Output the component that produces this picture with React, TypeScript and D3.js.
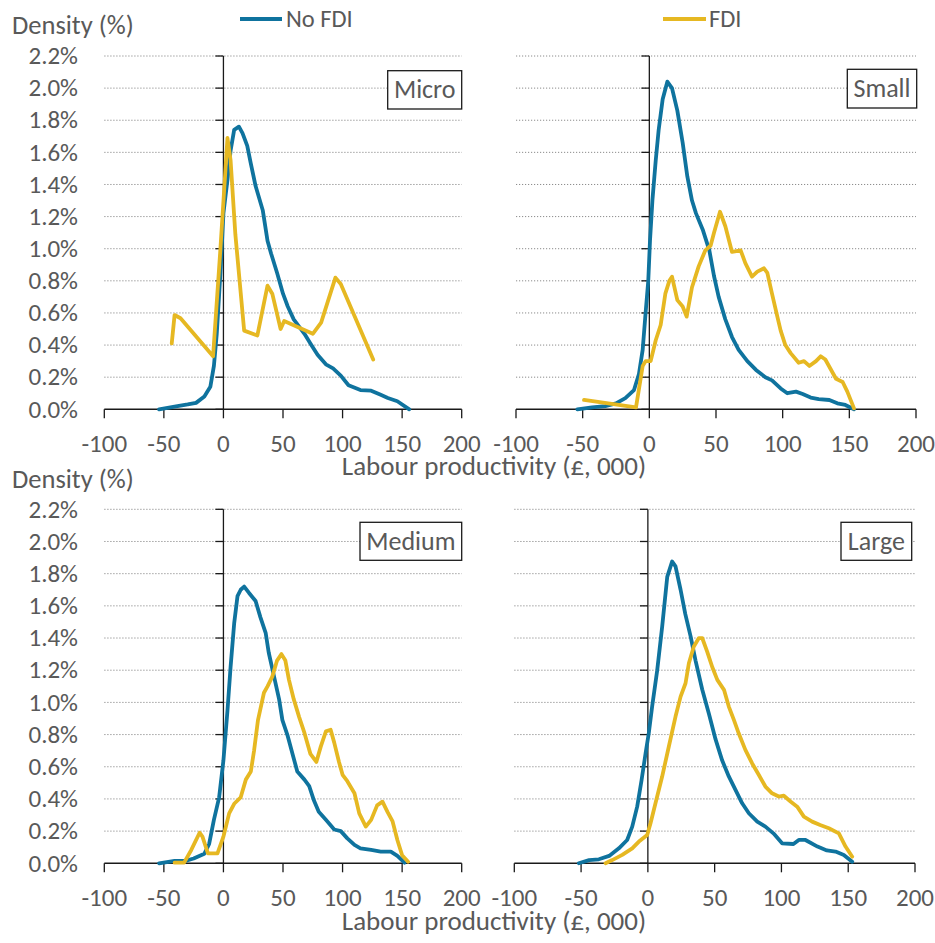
import React from "react";
import * as d3 from "d3";

// ---------- DATA ----------
const xTicks = [-100, -50, 0, 50, 100, 150, 200];
const yTicks = [0, 0.2, 0.4, 0.6, 0.8, 1.0, 1.2, 1.4, 1.6, 1.8, 2.0, 2.2];
const seriesNames = ["No FDI", "FDI"];
const panelNames = ["Micro", "Small", "Medium", "Large"];

// [x (£000), density (%)]
const microNoFDI: [number, number][] = [
  [-54, 0], [-41, 0.017], [-30, 0.03], [-23, 0.04], [-16, 0.08], [-11, 0.14], [-8, 0.27],
  [-5.6, 0.47], [-2.2, 0.89], [0, 1.22], [3.4, 1.43], [6, 1.61], [9, 1.74], [13, 1.76],
  [16, 1.72], [20, 1.64], [23, 1.53], [27, 1.39], [33, 1.24], [37, 1.05], [40, 0.97],
  [45, 0.85], [50, 0.72], [54, 0.64], [59, 0.56], [68, 0.47], [73, 0.41], [79, 0.34],
  [86, 0.28], [92, 0.255], [98.5, 0.21], [105, 0.15], [115, 0.12], [124, 0.116],
  [132, 0.09], [138, 0.07], [146, 0.05], [156, 0],
];
const microFDI: [number, number][] = [
  [-43.4, 0.41], [-41, 0.587], [-36, 0.567], [-8.7, 0.33], [-2.8, 0.97], [3.4, 1.69],
  [6, 1.55], [10, 1.09], [17.4, 0.49], [28.5, 0.46], [37, 0.77], [41, 0.72], [48, 0.5],
  [51, 0.55], [75, 0.47], [82, 0.54], [94, 0.82], [98.5, 0.78], [125.7, 0.31],
];
const smallNoFDI: [number, number][] = [
  [-54, 0], [-43, 0.012], [-33, 0.02], [-25, 0.037], [-18, 0.07], [-11.5, 0.12], [-7.8, 0.22],
  [-5, 0.37], [-2.8, 0.6], [-0.8, 0.8], [0.5, 1.05], [2.3, 1.3], [4.8, 1.55], [7, 1.74],
  [10, 1.93], [13.5, 2.04], [17, 2.0], [21, 1.86], [25, 1.66], [28.5, 1.45], [32, 1.3],
  [35, 1.22], [40, 1.12], [45, 0.99], [48.5, 0.83], [52, 0.7], [57, 0.56], [62, 0.45],
  [67, 0.37], [73.5, 0.3], [80, 0.245], [87, 0.2], [92, 0.18], [98.5, 0.13], [103.5, 0.1],
  [110, 0.11], [115, 0.095], [121, 0.073], [127, 0.064], [135, 0.058], [141, 0.037],
  [147, 0.027], [153.5, 0],
];
const smallFDI: [number, number][] = [
  [-49, 0.058], [-10, 0.012], [-5, 0.27], [-2.8, 0.3], [1, 0.3], [4.8, 0.43], [8.5, 0.525],
  [12, 0.72], [15, 0.8], [17, 0.826], [21, 0.68], [25, 0.64], [28, 0.577], [32, 0.76],
  [37, 0.89], [42, 0.99], [46, 1.02], [48.5, 1.1], [53, 1.23], [57, 1.14], [62, 0.98],
  [68.5, 0.99], [72, 0.91], [77, 0.826], [81, 0.857], [86, 0.878], [88.5, 0.85], [92, 0.72],
  [96, 0.577], [98.5, 0.49], [102, 0.4], [106, 0.35], [112, 0.29], [116, 0.3], [120, 0.27],
  [125, 0.3], [128.5, 0.33], [132, 0.31], [140, 0.19], [145, 0.17], [148.5, 0.11],
  [153.5, 0.006],
];
const mediumNoFDI: [number, number][] = [
  [-54, 0], [-41, 0.015], [-32, 0.015], [-25, 0.03], [-16, 0.06], [-12, 0.12], [-8, 0.27],
  [-3.6, 0.41], [0, 0.64], [3.4, 0.95], [6, 1.22], [9, 1.49], [11.8, 1.66], [14.5, 1.7],
  [17.4, 1.72], [21.5, 1.68], [27, 1.63], [31, 1.53], [35.5, 1.43], [38, 1.31], [42.5, 1.16],
  [46.7, 1.02], [49.5, 0.89], [54, 0.79], [58, 0.68], [62, 0.57], [68, 0.52], [72, 0.48],
  [76, 0.39], [80, 0.32], [86, 0.27], [93, 0.21], [98.5, 0.2], [104, 0.155], [110, 0.114],
  [115, 0.093], [124, 0.083], [132, 0.073], [140.5, 0.073], [146, 0.046], [152, 0.004],
];
const mediumFDI: [number, number][] = [
  [-41, 0.004], [-33, 0.004], [-27, 0.083], [-20, 0.19], [-17.6, 0.166], [-13, 0.062],
  [-5, 0.062], [0, 0.166], [4.8, 0.31], [9, 0.37], [14.5, 0.41], [18.8, 0.52], [23, 0.57],
  [25.7, 0.7], [29, 0.89], [34, 1.06], [37, 1.1], [41, 1.16], [45, 1.26], [48.7, 1.3],
  [52, 1.26], [55, 1.14], [59, 1.02], [63.5, 0.91], [68, 0.81], [73, 0.68], [78, 0.63],
  [81.7, 0.725], [86, 0.82], [90, 0.83], [93, 0.75], [97, 0.63], [100, 0.55], [104, 0.51],
  [110, 0.435], [114, 0.31], [119.5, 0.228], [124, 0.27], [129, 0.36], [133.5, 0.383],
  [137.7, 0.32], [142, 0.26], [146, 0.145], [150, 0.05], [155, 0.01],
];
const largeNoFDI: [number, number][] = [
  [-51.7, 0], [-44, 0.02], [-36.7, 0.025], [-29, 0.046], [-21.7, 0.093], [-15.5, 0.145],
  [-11.7, 0.228], [-8, 0.352], [-4.7, 0.518], [-1.7, 0.684], [0.7, 0.81], [3.2, 0.974],
  [7, 1.2], [10.7, 1.47], [14.5, 1.78], [18.2, 1.876], [20.7, 1.845], [24.5, 1.7], [28, 1.55],
  [32, 1.41], [35.7, 1.26], [40.7, 1.08], [45.7, 0.93], [50.7, 0.77], [55.6, 0.64],
  [60.6, 0.54], [65.6, 0.456], [70.6, 0.373], [75.6, 0.311], [81.9, 0.259], [88, 0.228],
  [94, 0.186], [100.5, 0.124], [109, 0.12], [113, 0.145], [118, 0.145], [127, 0.104],
  [134, 0.08], [140.5, 0.073], [146.7, 0.052], [153, 0.01],
];
const largeFDI: [number, number][] = [
  [-31.7, 0], [-26.7, 0.02], [-19.2, 0.052], [-11.7, 0.093], [-6.7, 0.135], [-0.5, 0.176],
  [2, 0.249], [5.7, 0.373], [10.7, 0.539], [15.7, 0.726], [20.7, 0.912], [24.5, 1.036],
  [28.2, 1.119], [30.7, 1.243], [34.4, 1.347], [38.2, 1.4], [40.7, 1.4], [44.4, 1.316],
  [48.2, 1.22], [52, 1.14], [57, 1.078], [60.6, 0.974], [64.4, 0.891], [68, 0.808],
  [73, 0.705], [78, 0.622], [83, 0.55], [88, 0.477], [93, 0.435], [98, 0.415], [101.8, 0.42],
  [106.8, 0.384], [111.8, 0.352], [116.8, 0.29], [123, 0.259], [129, 0.238], [135.5, 0.218],
  [143, 0.186], [148, 0.104], [153, 0.041],
];

const panelSeries = [
  [microNoFDI, microFDI],
  [smallNoFDI, smallFDI],
  [mediumNoFDI, mediumFDI],
  [largeNoFDI, largeFDI],
];

// ---------- STYLE / LAYOUT ----------
const COLORS = ["#0f739e", "#e6b822"];
const TEXT = "#595959";
const FONT = "Carlito, Calibri, Lato, sans-serif";
const FS_TICK = 25;
const FS_TITLE = 27;
const FS_DENS = 26.5;
const FS_LEG = 24.5;
const FS_BOX = 26;

const layout = [
  { x0: 104.3, x1: 461.7, y0: 409.3, y1: 56, yLabels: true, box: { x: 387.7, y: 70.7, w: 74, h: 38.3 } },
  { x0: 516, x1: 916, y0: 409.3, y1: 56, yLabels: false, box: { x: 847.3, y: 69.3, w: 69.4, h: 38.7 } },
  { x0: 104.3, x1: 461.7, y0: 863.3, y1: 509.3, yLabels: true, box: { x: 360, y: 522.3, w: 101.7, h: 38 } },
  { x0: 514.3, x1: 915, y0: 863.3, y1: 509.3, yLabels: false, box: { x: 841, y: 522.3, w: 70.7, h: 38 } },
];

function Panel({ i }: { i: number }) {
  const L = layout[i];
  const x = d3.scaleLinear().domain([-100, 200]).range([L.x0, L.x1]);
  const y = d3.scaleLinear().domain([0, 2.2]).range([L.y0, L.y1]);
  const line = d3
    .line<[number, number]>()
    .x((d) => x(d[0]))
    .y((d) => y(d[1]))
    .curve(d3.curveLinear);
  return (
    <g>
      {yTicks.slice(1).map((t) => (
        <line
          key={"g" + t}
          x1={x(-100)}
          x2={x(200)}
          y1={y(t)}
          y2={y(t)}
          stroke="#8c8c8c"
          strokeWidth={1}
          strokeDasharray="1.2,1.8"
        />
      ))}
      {/* y axis */}
      <line x1={x(0)} x2={x(0)} y1={y(0)} y2={y(2.2)} stroke="#1a1a1a" strokeWidth={1.3} />
      {yTicks.map((t) => (
        <line key={"yt" + t} x1={x(0) - 8} x2={x(0)} y1={y(t)} y2={y(t)} stroke="#1a1a1a" strokeWidth={1.3} />
      ))}
      {/* x axis */}
      <line x1={x(-100)} x2={x(200)} y1={y(0)} y2={y(0)} stroke="#1a1a1a" strokeWidth={1.5} />
      {xTicks.map((t) => (
        <line key={"xt" + t} x1={x(t)} x2={x(t)} y1={y(0)} y2={y(0) + 9} stroke="#1a1a1a" strokeWidth={1.3} />
      ))}
      {xTicks.map((t) => (
        <text
          key={"xl" + t}
          x={x(t)}
          y={y(0) + 42.5}
          textAnchor="middle"
          fill={TEXT}
          fontSize={FS_TICK}
          fontFamily={FONT}
        >
          {t}
        </text>
      ))}
      {L.yLabels &&
        yTicks.map((t) => (
          <text
            key={"yl" + t}
            x={78}
            y={y(t)}
            dy="0.33em"
            textAnchor="end"
            fill={TEXT}
            fontSize={FS_TICK}
            fontFamily={FONT}
          >
            {t.toFixed(1) + "%"}
          </text>
        ))}
      {panelSeries[i].map((s, k) => (
        <path
          key={"s" + k}
          d={line(s) || ""}
          fill="none"
          stroke={COLORS[k]}
          strokeWidth={3.8}
          strokeLinejoin="round"
          strokeLinecap="round"
        />
      ))}
      <rect x={L.box.x} y={L.box.y} width={L.box.w} height={L.box.h} fill="#fff" stroke="#1a1a1a" strokeWidth={1.3} />
      <text
        x={L.box.x + L.box.w / 2}
        y={L.box.y + L.box.h / 2}
        dy="0.32em"
        textAnchor="middle"
        fill={TEXT}
        fontSize={FS_BOX}
        fontFamily={FONT}
      >
        {panelNames[i]}
      </text>
    </g>
  );
}

export default function App() {
  return (
    <svg
      width={935}
      height={943}
      style={{ position: "absolute", left: 0, top: 0, background: "#fff" }}
      fontFamily={FONT}
    >
      <rect x={0} y={0} width={935} height={943} fill="#fff" />
      {[0, 1, 2, 3].map((i) => (
        <Panel key={i} i={i} />
      ))}
      <text x={12} y={34} fill={TEXT} fontSize={FS_DENS} fontFamily={FONT}>
        Density (%)
      </text>
      <text x={12} y={488} fill={TEXT} fontSize={FS_DENS} fontFamily={FONT}>
        Density (%)
      </text>
      <text x={494} y={475} textAnchor="middle" fill={TEXT} fontSize={FS_TITLE} fontFamily={FONT}>
        Labour productivity (£, 000)
      </text>
      <text x={494} y={930} textAnchor="middle" fill={TEXT} fontSize={FS_TITLE} fontFamily={FONT}>
        Labour productivity (£, 000)
      </text>
      {/* legend */}
      <line x1={240} x2={282} y1={19} y2={19} stroke={COLORS[0]} strokeWidth={3.8} />
      <text x={286} y={27} fill={TEXT} fontSize={FS_LEG} fontFamily={FONT}>
        {seriesNames[0]}
      </text>
      <line x1={663} x2={706} y1={19} y2={19} stroke={COLORS[1]} strokeWidth={3.8} />
      <text x={709} y={27} fill={TEXT} fontSize={FS_LEG} fontFamily={FONT}>
        {seriesNames[1]}
      </text>
    </svg>
  );
}
